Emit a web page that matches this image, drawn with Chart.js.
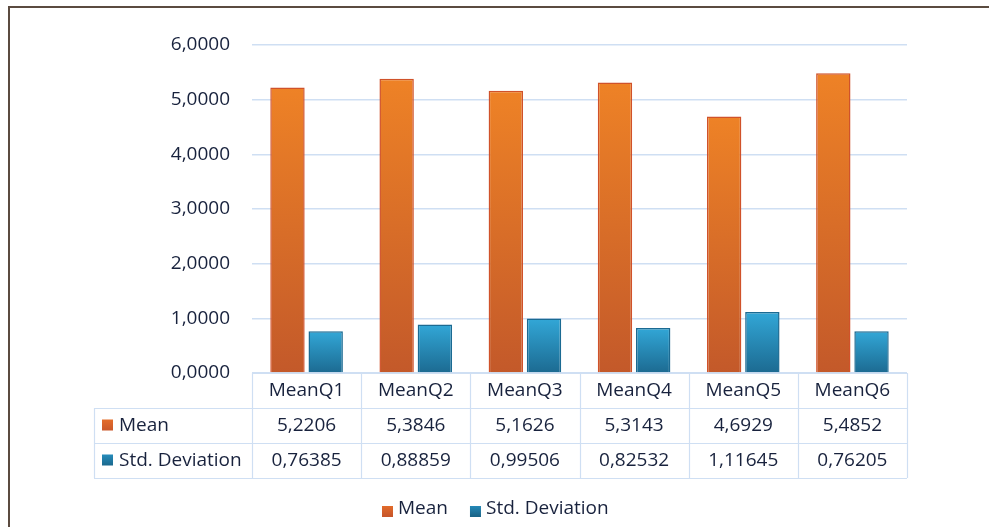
<!DOCTYPE html>
<html>
<head>
<meta charset="utf-8">
<script src="https://cdn.jsdelivr.net/npm/chart.js@4.4.0/dist/chart.umd.min.js"></script>
<style>
  html, body { margin: 0; padding: 0; background: #fff; overflow: hidden; }
  #wrap { position: relative; width: 989px; height: 527px; }
  #frame { position: absolute; left: 8px; top: 6px; width: 1200px; height: 800px;
           border-left: 2px solid #5b4b40; border-top: 2px solid #5b4b40; }
  canvas { position: absolute; left: 0; top: 0; }
</style>
</head>
<body>
<div id="wrap">
  <div id="frame"></div>
  <canvas id="chart" width="989" height="527"></canvas>
</div>
<script>
// data
const categories = ['MeanQ1', 'MeanQ2', 'MeanQ3', 'MeanQ4', 'MeanQ5', 'MeanQ6'];
const meanValues = [5.2206, 5.3846, 5.1626, 5.3143, 4.6929, 5.4852];
const stdValues = [0.76385, 0.88859, 0.99506, 0.82532, 1.11645, 0.76205];
const seriesNames = ['Mean', 'Std. Deviation'];
const yTicks = [0, 1, 2, 3, 4, 5, 6];

const FONT = '"Open Sans", "Noto Sans", sans-serif';
const TEXT = '#18223d';
const GRID = '#cfdff3';
const fmt = (v, d) => v.toFixed(d).replace('.', ',');

// vertical gradient for each bar, lighter on top
function barGrad(top, bottom) {
    return ctx => {
        const chart = ctx.chart;
        if (!chart.chartArea || ctx.parsed === undefined) return top;
        const y = chart.scales.y;
        const y0 = y.getPixelForValue(ctx.parsed.y);
        const y1 = y.getPixelForValue(0);
        const g = chart.ctx.createLinearGradient(0, y0, 0, y1);
        g.addColorStop(0, top);
        g.addColorStop(1, bottom);
        return g;
    };
}

const tablePlugin = {
    id: 'dataTable',
    afterDraw(chart) {
        const c = chart.ctx;
        const x = chart.scales.x;
        const area = chart.chartArea;
        const step = (x.getPixelForValue(1) - x.getPixelForValue(0));
        const left = x.getPixelForValue(0) - step / 2;
        const right = x.getPixelForValue(categories.length - 1) + step / 2;
        const rowH = 35;
        const top = area.bottom;
        const labelLeft = 94;

        c.save();
        c.strokeStyle = GRID;
        c.lineWidth = 1.2;
        // horizontal lines
        const lines = [[left, top], [labelLeft, top + rowH], [labelLeft, top + 2 * rowH], [labelLeft, top + 3 * rowH]];
        lines.forEach(([x0, y]) => {
            c.beginPath();
            c.moveTo(x0, Math.round(y) + 0.5);
            c.lineTo(right, Math.round(y) + 0.5);
            c.stroke();
        });
        // vertical lines
        for (let i = 0; i <= categories.length; i++) {
            const xx = Math.round(left + i * step) + 0.5;
            c.beginPath();
            c.moveTo(xx, top);
            c.lineTo(xx, top + 3 * rowH);
            c.stroke();
        }
        c.beginPath();
        c.moveTo(labelLeft + 0.5, top + rowH);
        c.lineTo(labelLeft + 0.5, top + 3 * rowH);
        c.stroke();

        // texts
        c.fillStyle = TEXT;
        c.font = '19px ' + FONT;
        c.textBaseline = 'middle';
        c.textAlign = 'center';
        categories.forEach((cat, i) => {
            const cx = x.getPixelForValue(i);
            c.fillText(cat, cx, top + rowH * 0.5);
            c.fillText(fmt(meanValues[i], 4), cx, top + rowH * 1.5);
            c.fillText(fmt(stdValues[i], 5), cx, top + rowH * 2.5);
        });

        // row headers
        const sw = [['#e46d2a', '#c8562a'], ['#268cbb', '#1a6589']];
        seriesNames.forEach((name, r) => {
            const cy = top + rowH * (1.5 + r);
            const g = c.createLinearGradient(0, cy - 6, 0, cy + 6);
            g.addColorStop(0, sw[r][0]);
            g.addColorStop(1, sw[r][1]);
            c.fillStyle = g;
            c.fillRect(102, cy - 6, 11, 11);
            c.fillStyle = TEXT;
            c.textAlign = 'left';
            c.fillText(name, 119, cy);
        });

        // legend
        const ly = 509;
        let lx = 382;
        seriesNames.forEach((name, r) => {
            const g = c.createLinearGradient(0, ly - 4, 0, ly + 7);
            g.addColorStop(0, sw[r][0]);
            g.addColorStop(1, sw[r][1]);
            c.fillStyle = g;
            c.fillRect(lx, ly - 3, 11, 11);
            c.fillStyle = TEXT;
            c.textAlign = 'left';
            c.fillText(name, lx + 16, ly);
            lx += 16 + c.measureText(name).width + 22;
        });
        c.restore();
    }
};

const ctx = document.getElementById('chart').getContext('2d');
new Chart(ctx, {
    type: 'bar',
    data: {
        labels: categories,
        datasets: [{
            label: seriesNames[0],
            data: meanValues,
            backgroundColor: barGrad('#ee8226', '#c3592a'),
            borderColor: '#d0522a',
            borderWidth: 1.5
        }, {
            label: seriesNames[1],
            data: stdValues,
            backgroundColor: barGrad('#32a7d7', '#1c6a91'),
            borderColor: '#1b6a92',
            borderWidth: 1.5
        }]
    },
    options: {
        responsive: false,
        animation: false,
        layout: { padding: { left: 0, right: 82, top: 45, bottom: 154 } },
        datasets: { bar: { categoryPercentage: 0.7, barPercentage: 0.9 } },
        plugins: {
            legend: { display: false },
            tooltip: { enabled: false }
        },
        scales: {
            x: {
                display: false
            },
            y: {
                min: 0,
                max: 6,
                afterFit: s => { s.width = 252; },
                afterBuildTicks: s => { s.ticks = yTicks.map(v => ({ value: v })); },
                border: { display: false },
                grid: { color: GRID, lineWidth: 1.5, drawTicks: false },
                ticks: {
                    padding: 22,
                    color: TEXT,
                    font: { family: FONT, size: 19 },
                    callback: v => fmt(v, 4)
                }
            }
        }
    },
    plugins: [tablePlugin]
});
</script>
</body>
</html>
